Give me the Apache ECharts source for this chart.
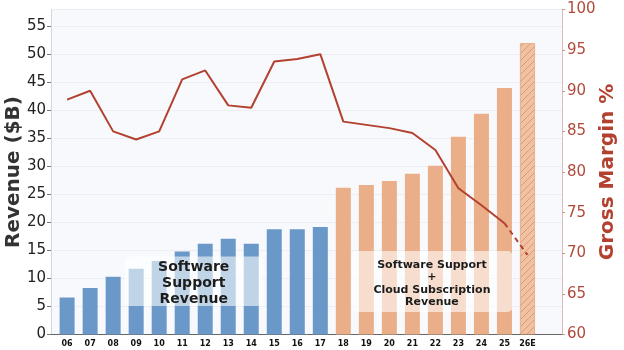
<!DOCTYPE html>
<html>
<head>
<meta charset="utf-8">
<script src="https://cdn.jsdelivr.net/npm/echarts@6/dist/echarts.min.js"></script>
<style>html,body{margin:0;padding:0;background:#fff}#c{width:624px;height:350px}</style>
</head>
<body>
<div id="c"></div>
<script>
const categories = ['06','07','08','09','10','11','12','13','14','15','16','17','18','19','20','21','22','23','24','25','26E'];
const revenue = [6.6, 8.3, 10.3, 11.75, 13.1, 14.8, 16.2, 17.1, 16.2, 18.8, 18.8, 19.2, 26.2, 26.7, 27.4, 28.7, 30.1, 35.3, 39.4, 44.0, 52.0];
const grossMargin = [88.9, 90.0, 85.0, 84.0, 85.0, 91.4, 92.5, 88.2, 87.9, 93.6, 93.9, 94.5, 86.2, 85.8, 85.4, 84.8, 82.7, 78.0, 75.9, 73.7, 69.8];
const revenueType = ['s','s','s','s','s','s','s','s','s','s','s','s','c','c','c','c','c','c','c','c','e'];
const labelSupport = 'Software\nSupport\nRevenue';
const labelCloud = 'Software Support\n+\nCloud Subscription\nRevenue';

const FONT = 'DejaVu Sans';
const BLUE = '#6a98c8';
const ORANGE = '#eaae88';
const RED = '#b3412f';

// hatch pattern
const pc = document.createElement('canvas');
pc.width = 7; pc.height = 7;
const g = pc.getContext('2d');
g.fillStyle = '#f1c2a2'; g.fillRect(0,0,7,7);
g.strokeStyle = '#d99670'; g.lineWidth = 0.9;
g.beginPath();
g.moveTo(-1,8); g.lineTo(8,-1);
g.moveTo(-1,1); g.lineTo(1,-1);
g.moveTo(6,8); g.lineTo(8,6);
g.stroke();

const barData = revenue.map((v,i)=>{
  const t = revenueType[i];
  let style;
  if (t==='s') style = {color: BLUE};
  else if (t==='c') style = {color: ORANGE};
  else style = {color: {image: pc, repeat: 'repeat'}, borderColor: '#e6a57f', borderWidth: 0.8};
  return {value:[i, v], itemStyle: style};
});
const solidLine = grossMargin.slice(0, 20).map((v,i)=>[i, v]);
const dashLine = grossMargin.slice(19).map((v,i)=>[i+19, v]);

const chart = echarts.init(document.getElementById('c'), null, {renderer:'canvas'});
chart.setOption({
  animation: false,
  textStyle: {fontFamily: FONT},
  grid: {left: 51, right: 62, top: 9.5, bottom: 15.5, containLabel: false, outerBoundsMode: 'none',
         show: true, backgroundColor: '#f8f9fc', borderWidth: 0},
  xAxis: {
    type: 'value', min: -0.7, max: 21.5,
    axisLine: {show: true, onZero: false, lineStyle: {color: '#666', width: 1}},
    axisTick: {show: false},
    splitLine: {show: false},
    axisLabel: {
      customValues: categories.map((c,i)=>i),
      formatter: v => categories[Math.round(v)],
      fontFamily: FONT, fontSize: 8, fontWeight: 'bold', color: '#111', margin: 5
    }
  },
  yAxis: [{
    type: 'value', min: 0, max: 58, interval: 5,
    name: 'Revenue ($B)', nameLocation: 'middle', nameGap: 27, nameRotate: 90, nameMoveOverlap: false,
    nameTextStyle: {fontFamily: FONT, fontSize: 20, fontWeight: 'bold', color: '#333'},
    axisLine: {show: true, onZero: false, lineStyle: {color: '#d3d7de'}},
    axisTick: {show: true, length: 4, lineStyle: {color: '#777'}},
    splitLine: {show: true, lineStyle: {color: '#eceef3', width: 1}},
    axisLabel: {showMaxLabel: false, fontFamily: FONT, fontSize: 15, color: '#222', margin: 5}
  },{
    type: 'value', min: 60, max: 100, interval: 5, position: 'right',
    name: 'Gross Margin %', nameLocation: 'middle', nameGap: 36, nameRotate: 90, nameMoveOverlap: false,
    nameTextStyle: {fontFamily: FONT, fontSize: 20, fontWeight: 'bold', color: RED},
    axisLine: {show: true, onZero: false, lineStyle: {color: '#d9bcb7'}},
    axisTick: {show: true, length: 3, lineStyle: {color: '#c9958d'}},
    splitLine: {show: false},
    axisLabel: {fontFamily: FONT, fontSize: 15, color: '#b24a3c', margin: 5}
  }],
  series: [{
    type: 'bar', data: barData, barWidth: 15, yAxisIndex: 0, z: 2
  },{
    type: 'line', data: solidLine, yAxisIndex: 1, showSymbol: false, symbol: 'none',
    lineStyle: {color: RED, width: 2}, z: 5
  },{
    type: 'line', data: dashLine, yAxisIndex: 1, showSymbol: false, symbol: 'none',
    lineStyle: {color: RED, width: 2, type: [5,4]}, z: 5
  }]
});

function px(x, y){ return chart.convertToPixel({xAxisIndex:0, yAxisIndex:0}, [x, y]); }
function box(x0, x1, y0, y1){
  const a = px(x0, y1), b = px(x1, y0);
  return {x: a[0], y: a[1], w: b[0]-a[0], h: b[1]-a[1]};
}
const b1 = box(2.5, 8.5, 5.1, 13.9);
const b2 = box(12.35, 19.35, 4.0, 14.9);
chart.setOption({
  graphic: [
    {type:'rect', z: 50, shape:{x:b1.x, y:b1.y, width:b1.w, height:b1.h, r:5}, style:{fill:'rgba(255,255,255,0.58)'}},
    {type:'text', z: 51, x: b1.x + b1.w/2, y: b1.y + b1.h/2 + 2, style:{text: labelSupport, fontFamily: FONT, fontSize: 14, fontWeight:'bold', fill:'#1c1c1c', align:'center', verticalAlign:'middle', lineHeight: 16}},
    {type:'rect', z: 50, shape:{x:b2.x, y:b2.y, width:b2.w, height:b2.h, r:5}, style:{fill:'rgba(255,255,255,0.58)'}},
    {type:'text', z: 51, x: b2.x + b2.w/2, y: b2.y + b2.h/2 + 2, style:{text: labelCloud, fontFamily: FONT, fontSize: 11, fontWeight:'bold', fill:'#1c1c1c', align:'center', verticalAlign:'middle', lineHeight: 12.3}}
  ]
});
</script>
</body>
</html>
